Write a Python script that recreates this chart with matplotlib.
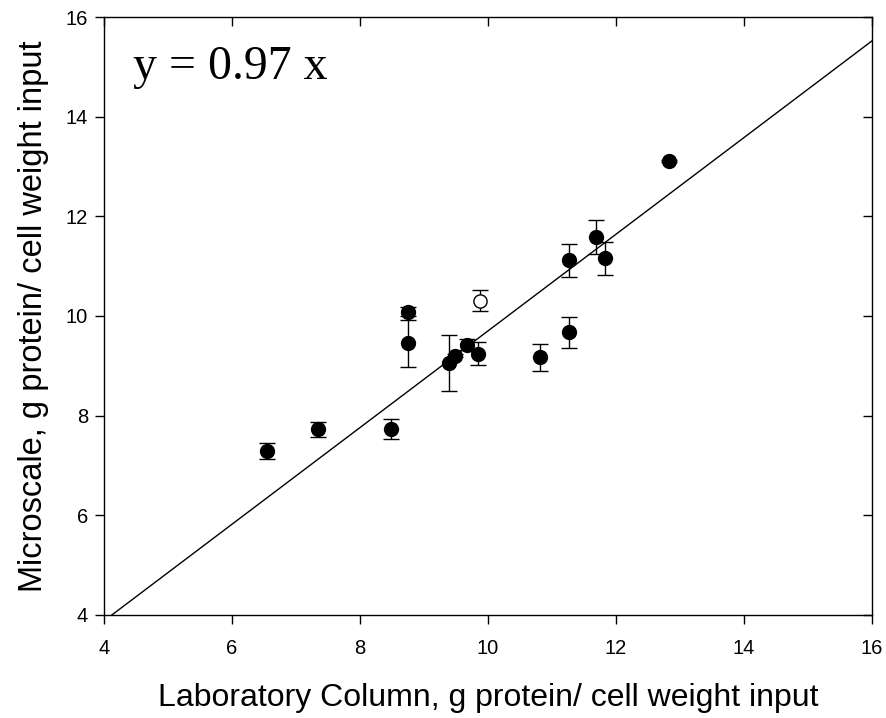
import matplotlib
matplotlib.use("Agg")
import matplotlib.pyplot as plt
import numpy as np

plt.rcParams["font.family"] = ["Liberation Sans", "DejaVu Sans"]

# filled points: laboratory column vs microscale
lab_x = [6.55, 7.34, 8.48, 8.755, 8.755, 9.39, 9.48, 9.67, 9.85, 10.81, 11.27, 11.27, 11.69, 11.83, 12.83]
micro_y = [7.29, 7.73, 7.74, 10.09, 9.45, 9.06, 9.20, 9.42, 9.24, 9.17, 9.67, 11.12, 11.59, 11.16, 13.12]
micro_err = [0.17, 0.15, 0.20, 0.10, 0.47, 0.56, 0.03, 0.11, 0.23, 0.27, 0.31, 0.33, 0.34, 0.33, 0.02]

# open point
open_x = [9.875]
open_y = [10.31]
open_err = [0.21]

slope = 0.97
line_x = np.array([4.0, 16.0])

fig = plt.figure(figsize=(8.87, 7.18), dpi=100)
ax = fig.add_axes([0.1172, 0.1435, 0.8658, 0.8328])

ax.plot(line_x, slope * line_x, color="black", lw=1.0, zorder=2)
ax.errorbar(lab_x, micro_y, yerr=micro_err, fmt="o", color="black", ms=10,
            ecolor="black", elinewidth=1.0, capsize=6, capthick=1.0, zorder=3)
ax.errorbar(open_x, open_y, yerr=open_err, fmt="o", mfc="white", mec="black", ms=9.5,
            mew=1.0, ecolor="black", elinewidth=1.0, capsize=6, capthick=1.0, zorder=3)

ax.set_xlim(4, 16)
ax.set_ylim(4, 16)
ax.set_xticks(np.arange(4, 17, 2))
ax.set_yticks(np.arange(4, 17, 2))
ax.tick_params(axis="both", which="major", labelsize=14.5, length=6.5, width=1.0, direction="out")
ax.tick_params(axis="x", pad=11)
ax.tick_params(axis="y", pad=5)
ax.tick_params(top=True, right=True)
for t in ax.xaxis.get_major_ticks():
    t.tick2line.set_marker(3)
for t in ax.yaxis.get_major_ticks():
    t.tick2line.set_marker(0)
for s in ax.spines.values():
    s.set_linewidth(1.0)

ax.set_xlabel("Laboratory Column, g protein/ cell weight input", fontsize=23, labelpad=18)
ax.set_ylabel("Microscale, g protein/ cell weight input", fontsize=23.5, labelpad=12)

ax.text(0.038, 0.897, "y = 0.97 x", transform=ax.transAxes, fontsize=34.5,
        family=["Liberation Serif", "DejaVu Serif"], va="baseline", ha="left")

fig.savefig("out.png", dpi=100)
